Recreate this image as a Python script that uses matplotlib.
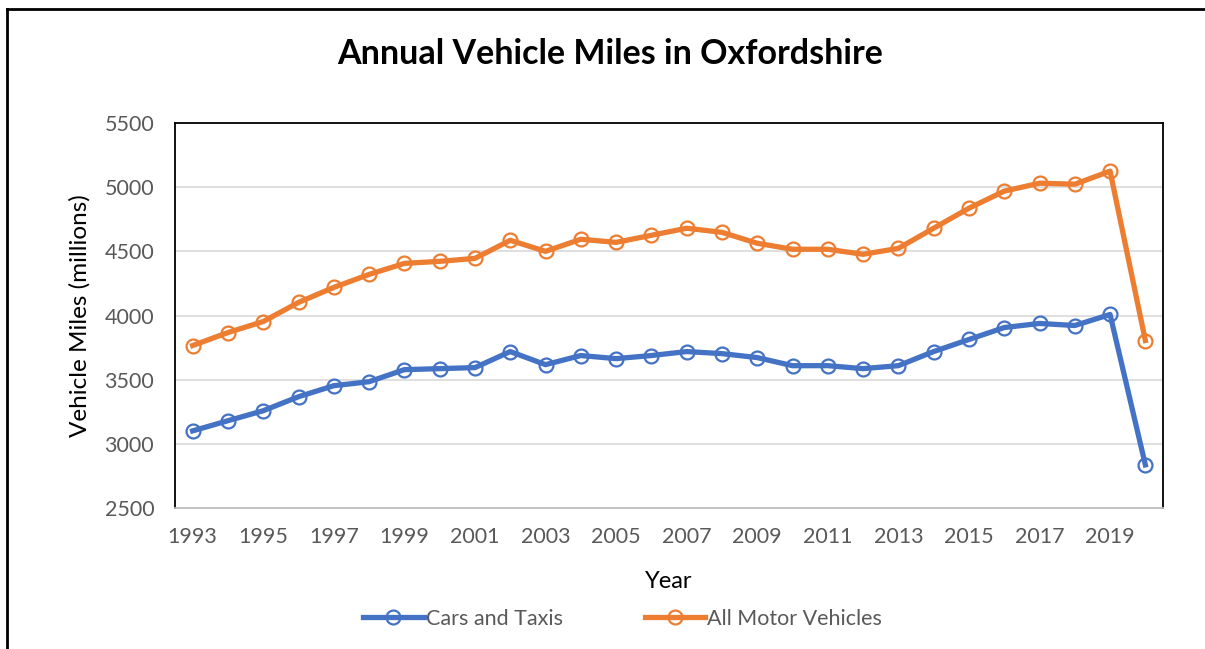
import matplotlib
matplotlib.use("Agg")
import matplotlib.pyplot as plt
from matplotlib.lines import Line2D

plt.rcParams["font.family"] = ["Lato", "DejaVu Sans"]

years = list(range(1993, 2021))
cars_taxis = [3101, 3180, 3258, 3367, 3453, 3484, 3578, 3586, 3594, 3719,
              3617, 3688, 3664, 3688, 3719, 3703, 3672, 3609, 3609, 3586,
              3609, 3719, 3813, 3906, 3938, 3922, 4008, 2836]
all_motor = [3766, 3867, 3953, 4102, 4219, 4320, 4406, 4422, 4445, 4586,
             4500, 4594, 4570, 4625, 4680, 4648, 4563, 4516, 4516, 4477,
             4523, 4680, 4836, 4969, 5031, 5023, 5125, 3805]
y_ticks = [2500, 3000, 3500, 4000, 4500, 5000, 5500]
x_ticks = list(range(1993, 2020, 2))

BLUE = "#4472C4"
ORANGE = "#ED7D31"
GREY = "#595959"

fig = plt.figure(figsize=(12.05, 6.49), dpi=100)
ax = fig.add_axes([175 / 1205, 1 - 508 / 649, 988 / 1205, 385 / 649])

for vals, col, lab in [(cars_taxis, BLUE, "Cars and Taxis"),
                       (all_motor, ORANGE, "All Motor Vehicles")]:
    ax.plot(years, vals, color=col, lw=3.8, marker="o", ms=10,
            mfc="none", mec=col, mew=1.6, label=lab, zorder=3)

ax.set_xlim(1992.5, 2020.5)
ax.set_ylim(2500, 5500)
ax.set_yticks(y_ticks)
ax.set_xticks(x_ticks)
ax.tick_params(length=0, labelsize=15.5, labelcolor=GREY)
ax.tick_params(axis="y", pad=15)
ax.tick_params(axis="x", pad=14)
ax.grid(axis="y", color="#D9D9D9", lw=1.2, zorder=0)

for side in ["left", "top", "right"]:
    ax.spines[side].set_color("black")
    ax.spines[side].set_linewidth(1.3)
ax.spines["bottom"].set_color("#BFBFBF")
ax.spines["bottom"].set_linewidth(1.3)

ax.set_ylabel("Vehicle Miles (millions)", fontsize=17.5, color="black", labelpad=10)
ax.set_xlabel("Year", fontsize=17, color="black", labelpad=17)

fig.text(0.506, 1 - 54 / 649, "Annual Vehicle Miles in Oxfordshire",
         ha="center", va="center", fontsize=24.5, fontweight="bold")

ax.legend(loc="center", bbox_to_anchor=(0.453, (619 - 508) / -385),
          ncol=2, frameon=False, fontsize=15.5, labelcolor=GREY,
          handlelength=2.8, columnspacing=3.8, handletextpad=0.1)

# outer chart border (left and top edges visible)
fig.add_artist(Line2D([7.5 / 1205, 7.5 / 1205], [0, 1 - 9 / 649],
                      transform=fig.transFigure, color="black", lw=2))
fig.add_artist(Line2D([7.5 / 1205, 1], [1 - 9 / 649, 1 - 9 / 649],
                      transform=fig.transFigure, color="black", lw=2))

fig.savefig("out.png", dpi=100, facecolor="white")
